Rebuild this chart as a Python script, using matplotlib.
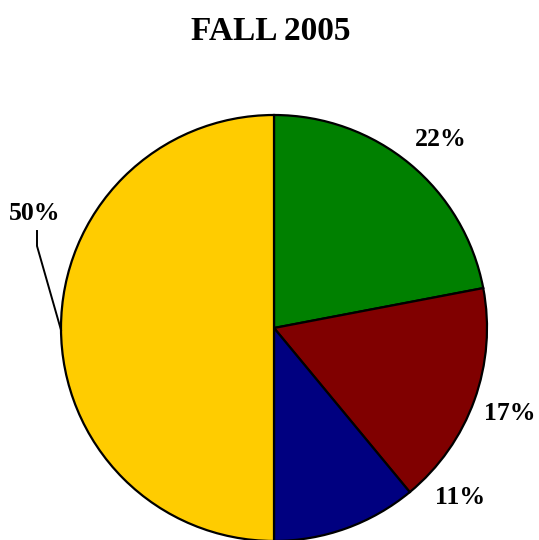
import matplotlib.pyplot as plt

# slice values (percent), clockwise from 12 o'clock
shares = [22, 17, 11, 50]
colors = ["#008000", "#800000", "#000080", "#FFCC00"]
labels = ["22%", "17%", "11%", "50%"]
title = "FALL 2005"

plt.rcParams['font.family'] = ['Liberation Serif', 'DejaVu Serif']

fig = plt.figure(figsize=(5.39, 5.40), dpi=100)
ax = fig.add_axes([0, 0, 1, 1])

wedges, _ = ax.pie(shares, colors=colors, startangle=90, counterclock=False,
                   center=(274, 212), radius=213, frame=True,
                   wedgeprops=dict(edgecolor='black', linewidth=1.6))
ax.set_xlim(0, 539)
ax.set_ylim(0, 540)
ax.set_aspect('auto')
ax.axis('off')

# label spots (pixels from the top-left, converted to y-up)
label_pos = [(441, 140), (510, 413), (460, 497), (35, 213)]
for lab, (x, y) in zip(labels, label_pos):
    ax.text(x, 540 - y, lab, ha='center', va='center', fontsize=18.5,
            fontweight='bold')

# leader line for the 50% label
ax.plot([37, 37, 61], [540 - 231, 540 - 246, 540 - 330], color='black', lw=1.4)

fig.text(271 / 539, 1 - 32 / 540, title, ha='center', va='center',
         fontsize=24, fontweight='bold')

fig.savefig("out.png", dpi=100)
